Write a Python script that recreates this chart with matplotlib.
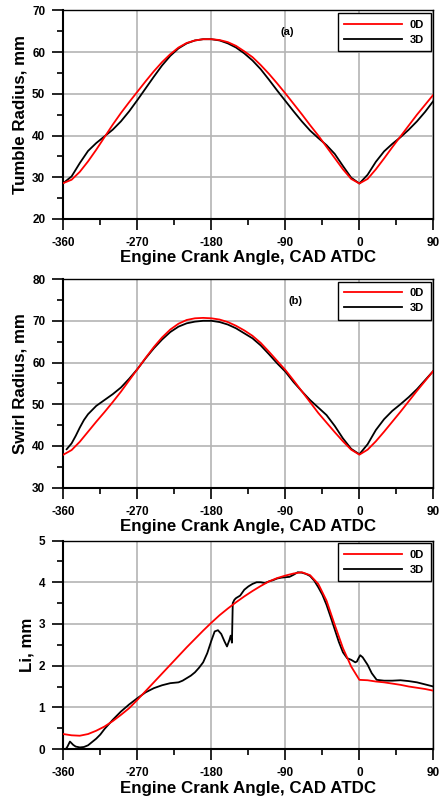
import matplotlib
matplotlib.use('Agg')
import matplotlib.pyplot as plt
from matplotlib.ticker import MultipleLocator

plt.rcParams['font.family'] = ['Liberation Sans', 'DejaVu Sans']
plt.rcParams['font.weight'] = 'bold'
plt.rcParams['axes.unicode_minus'] = False

# (a) Tumble radius, mm
ang_a = [-360, -350, -340, -330, -320, -310, -300, -290, -280, -270, -260, -250,
         -240, -230, -220, -210, -200, -190, -180, -170, -160, -150, -140, -130,
         -120, -110, -100, -90, -80, -70, -60, -50, -40, -30, -20, -10, 0,
         10, 20, 30, 40, 50, 60, 70, 80, 90]
tumble_0d = [28.6, 29.4, 31.3, 33.8, 36.6, 39.6, 42.6, 45.4, 48.0, 50.5, 53.0, 55.4,
             57.6, 59.5, 61.1, 62.2, 62.8, 63.1, 63.1, 62.9, 62.4, 61.5, 60.2, 58.8,
             56.9, 54.8, 52.5, 50.1, 47.6, 45.1, 42.5, 40.0, 37.3, 34.6, 31.9, 29.6, 28.5,
             29.6, 31.9, 34.5, 37.2, 39.8, 42.4, 45.0, 47.4, 49.8]
tumble_3d = [28.6, 30.2, 33.4, 36.3, 38.2, 39.8, 41.4, 43.4, 45.8, 48.5, 51.3, 54.1,
             56.8, 59.1, 60.9, 62.1, 62.8, 63.1, 63.1, 62.8, 62.1, 61.1, 59.7, 58.0,
             55.9, 53.4, 50.8, 48.3, 45.8, 43.4, 41.2, 39.4, 37.7, 35.6, 32.7, 29.9, 28.5,
             30.6, 33.7, 36.2, 38.0, 39.6, 41.4, 43.4, 45.7, 48.3]

# (b) Swirl radius, mm
swirl_0d = [37.9, 39.0, 41.0, 43.4, 45.8, 48.1, 50.5, 53.0, 55.7, 58.4, 61.1, 63.7,
            66.0, 67.9, 69.3, 70.2, 70.6, 70.7, 70.6, 70.3, 69.7, 68.8, 67.7, 66.4,
            64.7, 62.6, 60.4, 58.2, 55.7, 53.1, 50.5, 47.9, 45.6, 43.3, 41.1, 39.1, 37.9,
            39.1, 41.1, 43.4, 45.8, 48.2, 50.7, 53.2, 55.6, 58.0]
ang_b3 = [-356, -350, -345, -340, -335, -330, -320, -310, -300, -290, -280, -270,
          -260, -250, -240, -230, -220, -210, -200, -190, -180, -170, -160, -150,
          -140, -130, -120, -110, -100, -90, -80, -70, -60, -50, -40, -30, -20, -10, 0,
          10, 20, 30, 40, 50, 60, 70, 80, 90]
swirl_3d = [39.2, 40.6, 42.4, 44.4, 46.2, 47.6, 49.6, 51.0, 52.4, 54.0, 56.1, 58.4,
            61.0, 63.4, 65.5, 67.3, 68.6, 69.4, 69.8, 70.0, 70.0, 69.7, 69.1, 68.2,
            67.0, 65.8, 64.1, 62.0, 59.8, 57.8, 55.3, 53.1, 51.0, 49.2, 47.4, 44.8, 41.8, 39.3, 38.0,
            40.4, 43.8, 46.4, 48.4, 50.0, 51.7, 53.6, 55.8, 58.0]

# (c) Li, mm
li_0d = [0.36, 0.33, 0.32, 0.36, 0.44, 0.54, 0.67, 0.82, 0.98, 1.18, 1.39, 1.60,
         1.81, 2.02, 2.23, 2.44, 2.64, 2.84, 3.03, 3.21, 3.37, 3.52, 3.66, 3.79,
         3.91, 4.02, 4.10, 4.16, 4.21, 4.24, 4.17, 3.96, 3.56, 2.98, 2.42, 1.98, 1.66,
         1.65, 1.62, 1.60, 1.57, 1.54, 1.50, 1.47, 1.44, 1.40]
ang_c3 = [-357, -355, -352, -348, -345, -340, -335, -330, -325, -320, -315, -310,
          -300, -290, -280, -270, -260, -250, -240, -230, -225, -220, -215, -210,
          -205, -200, -195, -190, -185, -180, -176, -172, -168, -164, -161, -158,
          -156.5, -155, -154, -152, -150, -145, -140, -135, -130, -125, -120, -115,
          -110, -105, -100, -95, -90, -85, -80, -75, -70, -65, -60, -55, -50, -45,
          -40, -35, -30, -25, -20, -15, -10, -5, -3, -1, 1, 4, 10, 15, 21,
          30, 40, 50, 60, 70, 80, 90]
li_3d = [0.0, 0.06, 0.18, 0.10, 0.06, 0.04, 0.05, 0.09, 0.17, 0.25, 0.35, 0.48,
         0.70, 0.90, 1.07, 1.22, 1.36, 1.46, 1.53, 1.58, 1.59, 1.60, 1.64, 1.70,
         1.76, 1.84, 1.95, 2.08, 2.30, 2.60, 2.82, 2.85, 2.76, 2.58, 2.46, 2.62,
         2.72, 2.55, 3.50, 3.58, 3.62, 3.68, 3.82, 3.90, 3.96, 4.00, 4.00, 3.98,
         4.02, 4.05, 4.09, 4.11, 4.12, 4.13, 4.18, 4.24, 4.23, 4.20, 4.15, 4.04, 3.88, 3.70,
         3.46, 3.17, 2.87, 2.57, 2.32, 2.18, 2.14, 2.08, 2.10, 2.18, 2.25, 2.20, 2.02, 1.82, 1.66,
         1.64, 1.64, 1.65, 1.63, 1.60, 1.55, 1.50]

fig = plt.figure(figsize=(4.4, 8.02), dpi=100)

panels = [
    (0.727, ang_a, tumble_0d, ang_a, tumble_3d, (20, 70), 'Tumble Radius, mm', '(a)', (0.606, 0.898)),
    (0.392, ang_a, swirl_0d, ang_b3, swirl_3d, (30, 80), 'Swirl Radius, mm', '(b)', (0.626, 0.894)),
    (0.066, ang_a, li_0d, ang_c3, li_3d, (0, 5), 'Li, mm', None, None),
]

for bottom, x0, y0, x3, y3, ylim, ylab, tag, tagpos in panels:
    ax = fig.add_axes([0.144, bottom, 0.841, 0.26])
    ax.plot(x0, y0, color='#ff0000', lw=1.3, label='0D', zorder=3)
    ax.plot(x3, y3, color='black', lw=1.3, label='3D', zorder=2)
    ax.set_xlim(-360, 90)
    ax.set_ylim(*ylim)
    step = (ylim[1] - ylim[0]) / 5
    ax.xaxis.set_major_locator(MultipleLocator(90))
    ax.xaxis.set_minor_locator(MultipleLocator(45))
    ax.yaxis.set_major_locator(MultipleLocator(step))
    ax.yaxis.set_minor_locator(MultipleLocator(step / 2))
    ax.grid(True, which='major', color='#b4b4b4', lw=1.2)
    ax.set_axisbelow(True)
    ax.tick_params(which='major', direction='out', length=8, width=1.2, pad=5, labelsize=8.5)
    ax.tick_params(which='minor', direction='out', length=4.5, width=1.2)
    for lab in ax.get_xticklabels() + ax.get_yticklabels():
        lab.set_fontweight('bold')
    for s in ['left', 'bottom']:
        ax.spines[s].set_linewidth(1.5)
    for s in ['top', 'right']:
        ax.spines[s].set_linewidth(1.0)
    ax.set_xlabel('Engine Crank Angle, CAD ATDC', fontsize=12.2, fontweight='bold', labelpad=1)
    ax.set_ylabel(ylab, fontsize=12.2, fontweight='bold', labelpad=3)
    if tag:
        ax.text(tagpos[0], tagpos[1], tag, transform=ax.transAxes, fontsize=8,
                fontweight='bold', ha='center', va='center')
    leg = ax.legend(loc='upper right', fontsize=8, handlelength=5.2, handletextpad=0.7,
                    labelspacing=0.45, borderpad=0.6, borderaxespad=0.22,
                    fancybox=False, framealpha=1, edgecolor='black')
    leg.get_frame().set_linewidth(1.0)
    for t in leg.get_texts():
        t.set_fontweight('bold')

fig.savefig('out.png', dpi=100)
